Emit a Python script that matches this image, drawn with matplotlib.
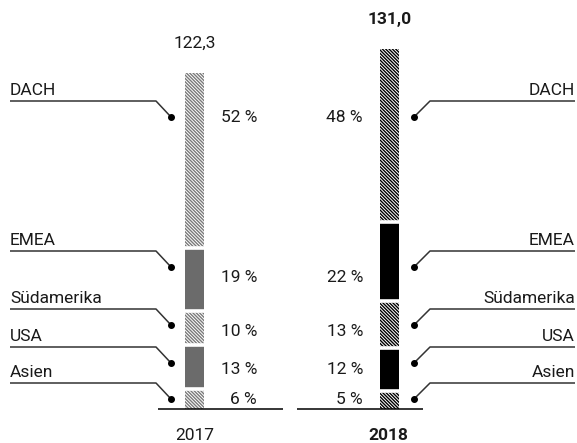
import matplotlib
matplotlib.use("Agg")
import matplotlib.pyplot as plt
import numpy as np

# ---- data ----
years = ["2017", "2018"]
totals = [122.3, 131.0]
total_labels = ["122,3", "131,0"]
regions = ["DACH", "EMEA", "Südamerika", "USA", "Asien"]
share_2017 = [52, 19, 10, 13, 6]
share_2018 = [48, 22, 13, 12, 5]

# ---- layout (pixel geometry of the reference) ----
W, H, DPI = 577, 443, 100
BASE_PX = 409          # baseline pixel row
PX_PER_UNIT = 2.75     # vertical pixels per value unit
BAR0_PX, BAR1_PX = 194.5, 389.5
XU = BAR1_PX - BAR0_PX

def xd(px):
    return (px - BAR0_PX) / XU

def yd(py):
    return (BASE_PX - py) / PX_PER_UNIT

plt.rcParams['font.family'] = ['Roboto', 'DejaVu Sans']
plt.rcParams['hatch.linewidth'] = 1.0

TXT = '#1a1a1a'
LINE = '#333333'
FS = 12.5

fig = plt.figure(figsize=(W / DPI, H / DPI), dpi=DPI)
ax = fig.add_axes([0, 0, 1, 1])
ax.set_xlim(xd(0), xd(W))
ax.set_ylim(yd(H), yd(0))
ax.axis('off')

bar_w = 19 / XU
styles = [
    # (solid color, hatch color) per year
    ('#6b6b6b', '#7a7a7a'),
    ('#000000', '#000000'),
]
hatched = [True, False, True, False, True]
shares = [share_2017, share_2018]

for i, (tot, sh) in enumerate(zip(totals, shares)):
    vals = np.array(sh[::-1], dtype=float) * tot / 100.0   # stacked from bottom: Asien first
    hat = hatched[::-1]
    bottoms = np.concatenate([[0], np.cumsum(vals)[:-1]])
    solid, hcol = styles[i]
    for v, b, h in zip(vals, bottoms, hat):
        if h:
            ax.bar(i, v, bottom=b, width=bar_w, color='white', edgecolor=hcol,
                   hatch='\\' * 10, linewidth=0)
        else:
            ax.bar(i, v, bottom=b, width=bar_w, color=solid, linewidth=0)
    # white separators between segments
    ax.hlines(np.cumsum(vals)[:-1], i - bar_w / 2 - 0.01, i + bar_w / 2 + 0.01,
              color='white', linewidth=2.6, zorder=3)
    # total label
    ax.annotate(total_labels[i], (i, tot), xytext=(0, 16), textcoords='offset points',
                ha='center', va='bottom', fontsize=FS, color=TXT,
                fontweight='bold' if i == 1 else 'normal')
    # year label
    ax.text(i - 0.008 * i, yd(435), years[i], ha='center', va='center', fontsize=FS,
            color=TXT, fontweight='bold' if i == 1 else 'normal')

# baselines
ax.hlines(0, xd(158), xd(283), color='black', linewidth=1.1)
ax.hlines(0, xd(297), xd(423), color='black', linewidth=1.1)

# label rows (pixel rows of the underline, percentage label centres)
line_rows = [101, 251, 309, 347, 383]
pct_rows = [117, 277, 331, 370, 400]
DROP = 16

for k, reg in enumerate(regions):
    ly = yd(line_rows[k])
    dy = yd(line_rows[k] + DROP)
    # left side
    ax.plot([xd(10), xd(156), xd(171)], [ly, ly, dy], color=LINE, lw=1.1,
            solid_capstyle='butt')
    ax.plot([xd(171)], [dy], 'o', color='black', ms=4)
    ax.annotate(reg, (xd(10), ly), xytext=(0, 2), textcoords='offset points',
                ha='left', va='bottom', fontsize=FS, color=TXT)
    # right side
    ax.plot([xd(575), xd(430), xd(414)], [ly, ly, dy], color=LINE, lw=1.1,
            solid_capstyle='butt')
    ax.plot([xd(414)], [dy], 'o', color='black', ms=4)
    ax.annotate(reg, (xd(575), ly), xytext=(0, 2), textcoords='offset points',
                ha='right', va='bottom', fontsize=FS, color=TXT)
    # percentages
    py = yd(pct_rows[k])
    ax.text(xd(257), py, f"{share_2017[k]} %", ha='right', va='center',
            fontsize=FS, color=TXT)
    ax.text(xd(363), py, f"{share_2018[k]} %", ha='right', va='center',
            fontsize=FS, color=TXT)

fig.savefig('out.png', dpi=DPI)
